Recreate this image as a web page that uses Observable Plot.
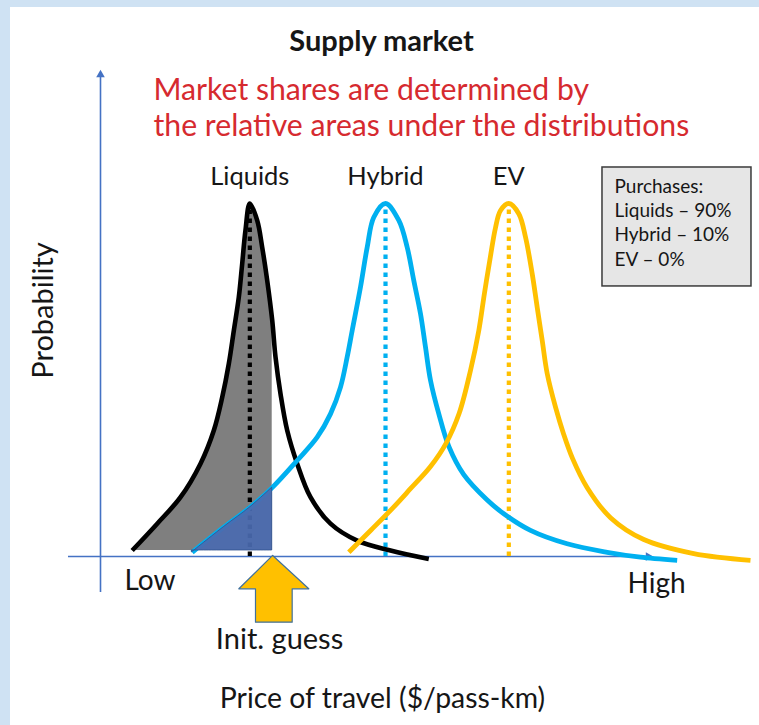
<!DOCTYPE html>
<html><head><meta charset="utf-8">
<script src="https://cdn.jsdelivr.net/npm/d3@7"></script>
<script src="https://cdn.jsdelivr.net/npm/@observablehq/plot@0.6"></script>
<style>
html,body{margin:0;padding:0;background:#cfe2f3;width:759px;height:725px;overflow:hidden}
#panel{position:absolute;left:10px;top:7px;width:749px;height:718px;background:#fff}
</style></head><body><div id="panel"></div>
<script>
// ---- data (price in arbitrary units 0..100 between Low and High, probability normalised to peak = 1)
const categories = ["Liquids", "Hybrid", "EV"];
const shares = [90, 10, 0];
const peakPrice = [27.15, 51.82, 74.24];
const initGuess = 31.22;
const xTickLabels = ["Low", "High"];

const liquidsPrice = [5.76, 10.31, 14.55, 18.18, 20.6, 22.13, 23.33, 24.24, 25.15, 25.76, 26.36, 27.15, 28.49, 29.4, 30.31, 31.22, 31.82, 32.73, 33.95, 35.76, 38.18, 41.82, 46.67, 52.73, 59.69];
const liquidsProb  = [0.017, 0.093, 0.168, 0.263, 0.357, 0.451, 0.546, 0.640, 0.735, 0.829, 0.924, 1.0, 0.952, 0.876, 0.782, 0.669, 0.565, 0.461, 0.357, 0.263, 0.168, 0.093, 0.045, 0.017, -0.007];

const hybridPrice = [16.67, 22.42, 27.27, 31.22, 35.76, 39.4, 41.82, 43.64, 44.85, 45.76, 47.27, 48.49, 49.69, 51.82, 54.24, 55.76, 56.96, 58.18, 59.09, 60.0, 61.51, 63.33, 66.05, 70.31, 73.33, 78.18, 84.85, 92.13, 98.18, 104.85];
const hybridProb  = [0.012, 0.083, 0.140, 0.195, 0.272, 0.338, 0.404, 0.480, 0.565, 0.640, 0.763, 0.876, 0.961, 1.0, 0.952, 0.876, 0.782, 0.688, 0.593, 0.499, 0.404, 0.312, 0.232, 0.160, 0.121, 0.074, 0.036, 0.012, -0.002, -0.011];

const evPrice = [45.15, 49.2, 53.3, 56.36, 60.0, 62.8, 65.2, 67.27, 68.78, 69.8, 70.9, 71.8, 72.73, 74.24, 76.05, 77.27, 78.49, 79.4, 80.31, 81.22, 82.73, 84.18, 85.82, 88.49, 92.73, 98.78, 107.87, 118.18];
const evProb  = [0.012, 0.075, 0.140, 0.192, 0.255, 0.320, 0.405, 0.527, 0.640, 0.745, 0.850, 0.930, 0.980, 1.0, 0.971, 0.905, 0.801, 0.706, 0.612, 0.518, 0.423, 0.348, 0.278, 0.195, 0.110, 0.048, 0.008, -0.011];

// init-guess arrow outline (price, probability units)
const arrowPrice = [31.3, 37.87, 34.85, 34.85, 28.18, 28.18, 25.15];
const arrowProb  = [0.003, -0.0915, -0.0915, -0.186, -0.186, -0.0915, -0.0915];

// ---- tables
const zip = (xs, ys) => xs.map((x, i) => ({x, y: ys[i]}));
const liquids = zip(liquidsPrice, liquidsProb);
const hybrid = zip(hybridPrice, hybridProb);
const ev = zip(evPrice, evProb);
const arrow = zip(arrowPrice, arrowProb);
const base = 0.017;
const liquidsFill = liquids.filter(d => d.x <= initGuess);
const hybridFill = hybrid.filter(d => d.x <= initGuess);
const colors = ["#000000", "#00b0f0", "#ffc000"];
const peaks = categories.map((c, i) => ({c, x: peakPrice[i], color: colors[i]}));
const legendLines = ["Purchases:", ...categories.map((c, i) => `${c} \u2013 ${shares[i]}%`)];

const axisColor = "#4472c4";
const txt = "#161616";
const font = "Lato, 'Open Sans', sans-serif";

const chart = Plot.plot({
  width: 749, height: 718, margin: 0,
  x: {domain: [0, 100], range: [90, 640], axis: null},
  y: {domain: [0, 1], range: [549, 196], axis: null},
  style: {fontFamily: font, background: "transparent", overflow: "visible"},
  marks: [
    Plot.areaY(liquidsFill, {x: "x", y1: base, y2: "y", curve: "catmull-rom", fill: "#7f7f7f"}),
    Plot.ruleX([0], {x: 0, y1: -0.102, y2: 1.37, stroke: axisColor, strokeWidth: 1.6}),
    Plot.ruleY([0], {y: 0, x1: -5.82, x2: 99.5, stroke: axisColor, strokeWidth: 1.6}),
    Plot.dot([0], {x: 0, y: 1.365, symbol: "triangle", r: 3.2, fill: axisColor, stroke: null}),
    Plot.dot([0], {x: 99.6, y: 0, symbol: "triangle", r: 3.2, rotate: 90, fill: axisColor, stroke: null}),
    Plot.ruleX(peaks, {x: "x", y1: 0, y2: 0.985, stroke: "color", strokeWidth: 4.2, strokeDasharray: "4.5,4.5"}),
    Plot.line(liquids, {x: "x", y: "y", stroke: colors[0], strokeWidth: 4.6, curve: "catmull-rom", strokeLinecap: "butt"}),
    Plot.line(hybrid, {x: "x", y: "y", stroke: colors[1], strokeWidth: 4.8, curve: "catmull-rom", strokeLinecap: "butt"}),
    Plot.line(ev, {x: "x", y: "y", stroke: colors[2], strokeWidth: 4.8, curve: "catmull-rom", strokeLinecap: "butt"}),
    Plot.areaY(hybridFill, {x: "x", y1: base, y2: "y", curve: "catmull-rom", fill: "#4a6ab0", fillOpacity: 0.92, stroke: "#2f528f", strokeWidth: 0.8}),
    Plot.line(arrow, {x: "x", y: "y", curve: "linear-closed", fill: "#ffc000", stroke: "#41719c", strokeWidth: 1.2}),
    Plot.text(["Supply market"], {x: 51.09, y: 1.433, text: d => d, fontSize: 29, fontWeight: "bold", fill: txt, lineAnchor: "bottom"}),
    Plot.text(["Market shares are determined by", "the relative areas under the distributions"], {x: 9.64, y: (d, i) => [1.292, 1.19][i], text: d => d, fontSize: 30.2, fill: "#d62a2f", textAnchor: "start", lineAnchor: "bottom"}),
    Plot.text(peaks, {x: "x", y: 1.051, text: "c", fontSize: 25.5, fill: txt, lineAnchor: "bottom"}),
    Plot.rect([0], {x1: 91.27, x2: 118.36, y1: 0.765, y2: 1.102, fill: "#e6e6e6", stroke: "#3a3a3a", strokeWidth: 1.5}),
    Plot.text(legendLines, {x: 93.45, y: (d, i) => 1.031 - i * 0.069, text: d => d, fontSize: 19, fill: txt, textAnchor: "start", lineAnchor: "bottom"}),
    Plot.text(xTickLabels, {x: (d, i) => [4.36, 95.82][i], y: (d, i) => [-0.0935, -0.102][i], text: d => d, fontSize: 28, fill: txt, textAnchor: "start", lineAnchor: "bottom"}),
    Plot.text(["Init. guess"], {x: 32.55, y: -0.261, text: d => d, fontSize: 29, fill: txt, lineAnchor: "bottom"}),
    Plot.text(["Price of travel ($/pass-km)"], {x: 51.27, y: -0.428, text: d => d, fontSize: 28.4, fill: txt, lineAnchor: "bottom"}),
    Plot.text(["Probability"], {x: -10.36, y: 0.697, text: d => d, rotate: -90, fontSize: 29, fill: txt})
  ]
});
document.getElementById("panel").appendChild(chart);
</script></body></html>
